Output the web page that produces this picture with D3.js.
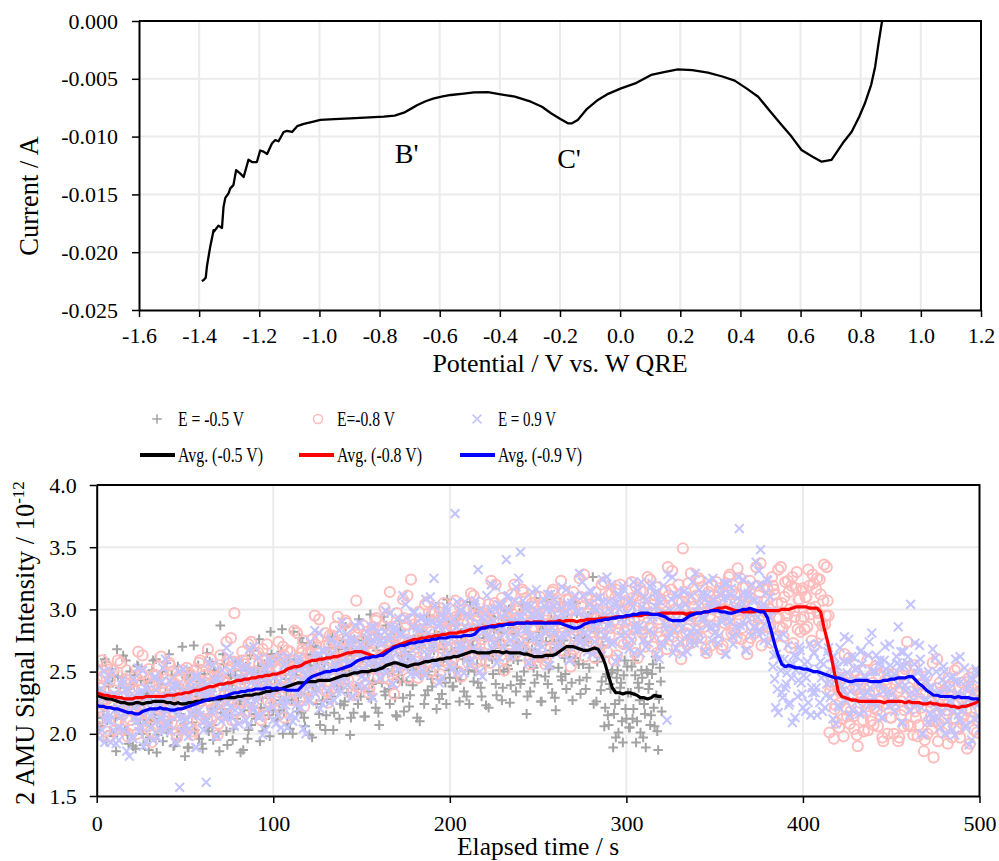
<!DOCTYPE html>
<html>
<head>
<meta charset="utf-8">
<script src="https://cdn.jsdelivr.net/npm/d3@7"></script>
<style>
  body { margin: 0; background: #fff; }
  svg text { font-family: "Liberation Serif", "Times New Roman", serif; fill: #000; }
</style>
</head>
<body>
<div id="chart"></div>
<script>
// ---------- top plot data (voltammogram) ----------
const potential = [-1.391,-1.385,-1.378,-1.374,-1.363,-1.352,-1.350,-1.336,-1.324,-1.319,-1.313,-1.302,-1.297,-1.286,-1.277,-1.263,-1.252,-1.236,-1.224,-1.208,-1.197,-1.186,-1.174,-1.158,-1.147,-1.136,-1.119,-1.108,-1.091,-1.074,-1.052,-1.02,-0.997,-0.95,-0.897,-0.85,-0.786,-0.75,-0.719,-0.695,-0.674,-0.645,-0.619,-0.59,-0.563,-0.52,-0.486,-0.44,-0.397,-0.35,-0.297,-0.26,-0.23,-0.2,-0.174,-0.16,-0.141,-0.11,-0.074,-0.04,0.003,0.05,0.103,0.15,0.192,0.24,0.292,0.34,0.381,0.42,0.459,0.50,0.537,0.57,0.603,0.64,0.67,0.703,0.74,0.77,0.795,0.814,0.835,0.848,0.86,0.871];
const current = [-0.0225,-0.0224,-0.0222,-0.0212,-0.0195,-0.0181,-0.0182,-0.0177,-0.0179,-0.0161,-0.0153,-0.0149,-0.0145,-0.0142,-0.0129,-0.0132,-0.0135,-0.0120,-0.0122,-0.0122,-0.0112,-0.0113,-0.0115,-0.0106,-0.0103,-0.0104,-0.0096,-0.0095,-0.0096,-0.0091,-0.0089,-0.0087,-0.00856,-0.00848,-0.00842,-0.00836,-0.00828,-0.00818,-0.00793,-0.00758,-0.00727,-0.00692,-0.00669,-0.00652,-0.0064,-0.00628,-0.00618,-0.00615,-0.00634,-0.00655,-0.00698,-0.00742,-0.00798,-0.00845,-0.00885,-0.00885,-0.00856,-0.0076,-0.00683,-0.0063,-0.00583,-0.0054,-0.00467,-0.0044,-0.00418,-0.00425,-0.00447,-0.0048,-0.00516,-0.00583,-0.00655,-0.00785,-0.009,-0.0100,-0.01116,-0.01174,-0.01217,-0.01202,-0.01058,-0.00958,-0.00828,-0.00712,-0.0055,-0.00395,-0.0018,0.0];
const potTicks = [-1.6,-1.4,-1.2,-1.0,-0.8,-0.6,-0.4,-0.2,0,0.2,0.4,0.6,0.8,1.0,1.2];
const curTicks = [0,-0.005,-0.010,-0.015,-0.020,-0.025];
const peakLabels = [{text: "B'", v: -0.71, i: -0.0123}, {text: "C'", v: -0.17, i: -0.0127}];

// ---------- bottom plot data (2 AMU signal) ----------
// samples on whole seconds
const grayPts = [2.13,2.34,2.06,2.55,2.21,2.58,2.11,2.38,2.02,2.46, 2.21,1.86,2.46,2.37,2.12,2.63,2.03,2.28,1.92,2.50,
  2.15,2.39,1.88,2.55,2.20,2.43,2.00,2.32,2.11,2.41, 1.97,2.31,2.59,2.12,1.85,2.45,2.20,2.50,2.06,2.33,
  2.01,2.64,2.11,2.27,1.91,2.41,2.54,2.16,2.02,2.36, 1.82,2.50,1.89,2.45,2.09,2.71,2.15,2.30,1.96,2.38,
  1.88,2.48,2.33,2.05,2.58,2.20,1.95,2.41,2.26,2.00, 2.87,2.20,2.56,2.15,1.91,2.39,2.47,1.95,2.33,2.12,
  2.58,2.26,2.51,1.87,2.43,2.29,2.03,2.63,2.22,2.49, 2.12,2.41,2.76,2.21,2.02,2.56,2.32,2.46,1.98,2.64,
  2.19,2.40,2.12,2.61,2.27,2.84,2.17,2.44,2.08,2.52, 2.35,2.00,2.60,2.51,2.26,2.77,2.17,2.42,2.06,2.64,
  2.31,2.55,1.97,2.71,2.36,2.59,2.16,2.48,2.27,2.57, 2.15,2.49,2.77,2.30,2.03,2.63,2.38,2.68,2.24,2.51,
  2.23,2.86,2.33,2.49,2.13,2.63,2.76,2.38,2.24,2.58, 2.49,2.75,2.14,2.70,2.34,2.96,2.40,2.55,2.21,2.63,
  2.07,2.77,2.62,2.34,2.87,2.49,2.24,2.70,2.55,2.29, 2.14,2.47,2.83,2.42,2.18,2.66,2.74,2.22,2.60,2.39,
  2.86,2.54,2.79,2.10,2.71,2.57,2.31,2.91,2.50,2.77, 2.38,2.67,3.02,2.47,2.28,2.82,2.58,2.72,2.24,2.90,
  2.45,2.66,2.38,2.87,2.53,2.95,2.43,2.70,2.34,2.78, 2.59,2.24,2.84,2.75,2.50,3.01,2.41,2.66,2.30,2.88,
  2.55,2.79,2.21,2.95,2.60,2.83,2.40,2.72,2.51,2.81, 2.37,2.71,2.99,2.52,2.25,2.85,2.60,2.90,2.46,2.73,
  2.40,3.03,2.50,2.66,2.30,2.80,2.93,2.55,2.41,2.75, 2.61,2.87,2.26,2.82,2.46,3.08,2.52,2.67,2.33,2.75,
  2.19,2.89,2.74,2.46,2.99,2.61,2.36,2.82,2.67,2.41, 3.06,2.61,2.97,2.56,2.32,2.80,2.88,2.36,2.74,2.53,
  2.97,3.26,2.90,2.26,2.82,2.68,2.42,2.62,2.21,2.48, 2.07,2.36,2.51,2.16,1.97,2.51,2.27,2.41,1.93,2.59,
  2.12,2.33,2.05,2.54,2.20,2.47,2.10,2.37,2.01,2.45, 2.24,1.89,2.49,2.40,2.15,2.56,2.06,2.31,1.87,2.53,
  2.18];
const redPts = [2.44,2.11,2.37,2.59,2.23,2.02,2.48,2.29,2.52,2.18, 2.35,2.10,2.59,2.18,2.30,2.03,2.41,2.51,2.22,2.11,
  2.37,2.27,2.47,2.00,2.43,2.16,2.63,2.20,2.32,2.06, 2.39,1.93,2.47,2.35,2.14,2.54,2.25,2.06,2.41,2.30,
  2.10,2.57,2.22,2.50,2.18,2.00,2.37,2.43,2.03,2.32, 2.18,2.53,2.29,2.48,1.99,2.42,2.31,2.11,2.57,2.26,
  2.50,2.19,2.41,2.68,2.26,2.11,2.53,2.34,2.45,2.08, 2.63,2.27,2.43,2.21,2.59,2.33,2.77,2.25,2.97,2.18,
  2.56,2.40,2.13,2.59,2.52,2.33,2.72,2.26,2.45,2.18, 2.64,2.37,2.56,2.11,2.68,2.41,2.59,2.26,2.50,2.34,
  2.59,2.26,2.52,2.74,2.38,2.17,2.63,2.44,2.67,2.33, 2.59,2.34,2.83,2.42,2.54,2.27,2.65,2.75,2.46,2.35,
  2.66,2.56,2.76,2.29,2.72,2.45,2.92,2.49,2.61,2.35, 2.71,2.25,2.79,2.67,2.46,2.86,2.57,2.38,2.73,2.62,
  2.44,2.91,2.56,2.84,2.52,2.34,2.71,3.07,2.37,2.66, 2.52,2.87,2.63,2.82,2.33,2.76,2.65,2.45,2.91,2.60,
  2.83,2.52,2.74,3.01,2.59,2.44,3.14,2.67,2.78,2.41, 2.97,2.61,2.77,2.55,2.93,2.67,3.11,2.59,3.24,2.52,
  2.88,2.72,2.45,2.91,2.84,2.65,3.04,2.58,2.77,2.50, 2.97,2.70,2.89,2.44,3.01,2.74,2.92,2.59,2.83,2.67,
  2.92,2.59,2.85,3.07,2.71,2.50,2.96,2.77,3.00,2.66, 2.89,2.64,3.13,2.72,2.84,2.57,2.95,3.05,2.76,2.65,
  2.94,2.84,3.04,2.57,3.00,2.73,3.20,2.77,2.89,2.63, 2.97,2.51,3.05,2.93,2.72,3.12,2.83,2.64,2.99,2.88,
  2.69,3.16,2.81,3.09,2.77,2.59,2.96,3.02,2.62,2.91, 2.75,3.10,2.86,3.05,2.56,2.99,2.88,2.68,3.14,2.83,
  3.05,2.74,2.96,3.23,2.81,2.66,3.08,2.89,3.00,2.63, 3.14,2.78,2.94,2.72,3.10,2.84,3.28,2.76,2.97,2.69,
  3.04,2.88,2.61,3.07,3.00,2.81,3.20,2.74,2.93,2.66, 3.12,2.85,3.04,2.59,3.16,2.89,3.07,2.74,2.98,2.82,
  3.07,2.74,3.00,3.22,2.86,2.65,3.11,2.92,3.15,2.81, 3.02,2.77,3.26,2.85,2.97,2.70,3.08,3.18,2.89,2.78,
  3.05,2.95,3.15,2.68,3.11,2.84,3.31,2.88,3.00,2.74, 3.06,2.60,3.49,3.02,2.81,3.21,2.92,2.73,3.08,2.97,
  2.78,3.25,2.90,3.18,2.86,2.68,3.05,3.11,2.71,3.00, 2.87,3.22,2.98,3.17,2.68,3.11,3.00,2.80,3.26,2.95,
  3.15,2.84,3.06,3.33,2.91,2.76,3.18,2.99,3.10,2.73, 3.23,2.87,3.03,2.81,3.19,2.93,3.37,2.85,3.06,2.78,
  3.16,3.00,2.73,3.19,3.12,2.93,3.32,2.86,3.05,2.78, 3.22,2.95,3.14,2.69,3.26,2.99,3.17,2.84,3.08,2.92,
  3.17,2.84,3.10,3.32,2.96,2.75,3.21,3.02,3.25,2.91, 3.12,2.87,3.36,2.95,3.07,2.01,2.39,2.49,2.20,2.09,
  2.35,2.25,2.45,1.98,2.41,2.14,2.61,2.18,2.30,2.04, 2.36,1.90,2.44,2.32,2.11,2.51,2.22,2.03,2.38,2.27,
  2.07,2.54,2.19,2.47,2.15,1.97,2.34,2.40,2.00,2.29, 2.13,2.48,2.24,2.43,1.94,2.37,2.26,2.06,2.52,2.74,
  2.37,2.06,2.28,2.55,2.13,1.98,2.40,2.21,2.32,1.95, 2.46,2.10,2.26,2.04,1.81,2.16,2.60,2.08,2.29,2.01,
  2.35,2.19,1.92,2.38,2.31,2.12,2.51,2.05,2.24,1.97, 2.41,2.14,2.33,1.88,2.45,2.18,2.36,2.03,2.27,2.11,
  2.34];
const bluePts = [1.99,2.34,2.23,2.03,2.50,2.15,2.43,2.11,1.93,2.30, 2.32,1.92,2.21,2.05,2.40,2.16,2.35,1.86,2.29,2.18,
  1.98,2.44,2.13,2.33,2.02,2.24,2.51,2.09,1.94,2.36, 2.21,2.32,1.95,2.46,2.10,2.26,2.04,2.42,2.16,2.60,
  2.09,2.30,2.02,2.36,2.20,1.93,2.39,1.57,2.13,2.52, 2.06,2.25,1.98,2.42,2.15,2.34,1.89,2.46,2.19,2.37,
  2.09,2.33,1.61,2.40,2.07,2.33,2.55,2.19,1.98,2.44, 2.28,2.51,2.17,2.38,2.13,2.62,2.21,2.33,2.06,2.44,
  2.58,2.29,2.18,2.44,2.34,2.54,2.07,2.50,2.23,2.70, 2.27,2.39,2.13,2.45,1.99,2.53,2.41,2.20,2.60,2.31,
  2.11,2.46,2.35,2.15,2.62,2.27,2.55,2.23,2.05,2.42, 2.50,2.10,2.39,2.23,2.58,2.34,2.53,2.04,2.47,2.36,
  2.28,2.74,2.43,2.63,2.32,2.54,2.81,2.39,2.24,2.66, 2.51,2.62,2.25,2.76,2.40,2.56,2.34,2.72,2.46,2.90,
  2.46,2.67,2.39,2.73,2.57,2.30,2.76,2.69,2.50,2.89, 2.46,2.65,2.38,2.82,2.55,2.74,2.29,2.86,2.59,2.77,
  2.51,2.75,2.59,2.82,2.49,2.75,2.97,2.61,2.40,2.86, 2.70,2.93,2.59,2.80,2.55,3.04,2.63,2.75,2.48,2.86,
  2.98,2.69,2.58,2.84,2.74,2.94,2.47,2.90,2.63,3.10, 2.69,3.25,2.55,2.87,2.41,2.95,2.83,2.62,3.02,2.73,
  2.55,2.90,2.79,3.77,3.06,2.71,2.99,2.67,2.49,2.86, 2.96,2.56,2.85,2.69,3.04,2.80,3.32,2.50,2.93,2.82,
  2.65,3.11,2.80,3.00,2.69,2.91,3.18,2.76,2.61,3.03, 2.86,2.97,3.40,3.11,2.75,2.91,2.69,3.07,2.81,3.25,
  3.46,2.94,2.66,3.00,2.84,2.57,3.03,2.96,2.77,3.16, 2.72,2.91,2.64,3.08,2.81,3.00,2.55,3.12,2.85,3.03,
  2.70,2.94,2.78,3.01,2.68,2.94,3.16,2.80,2.59,3.05, 2.88,3.11,2.77,2.98,2.73,3.22,2.81,2.93,2.66,3.04,
  3.14,2.85,2.74,3.00,2.90,3.10,2.63,3.06,2.79,3.26, 2.86,2.98,2.72,3.04,2.58,3.12,3.00,2.79,3.19,2.90,
  2.71,3.06,2.95,2.75,3.22,2.87,3.15,2.83,2.65,3.02, 3.10,2.70,2.99,2.83,3.18,2.94,3.13,2.64,3.07,2.96,
  2.73,3.19,2.88,2.11,2.77,2.99,3.26,2.84,2.69,3.11, 2.90,3.01,2.64,3.15,2.79,2.95,2.73,3.11,2.85,3.29,
  2.82,3.03,2.75,3.09,2.93,2.66,3.12,3.05,2.86,3.25, 2.81,3.00,2.73,3.17,2.90,3.09,2.64,3.21,2.94,3.12,
  2.78,3.02,2.86,3.09,3.65,3.02,3.24,2.88,2.67,3.13, 2.97,3.20,2.86,3.07,2.82,3.31,3.48,3.02,2.75,3.13,
  3.23,2.94,2.83,2.54,2.44,2.64,2.17,2.60,2.33,2.80, 2.37,2.49,2.23,2.55,2.09,2.63,2.51,2.30,2.70,2.41,
  2.21,2.56,2.45,2.25,2.72,2.37,2.65,2.33,2.15,2.52, 2.58,2.18,2.47,2.31,2.66,2.42,2.61,2.12,2.55,2.44,
  2.23,2.69,2.38,2.58,2.27,2.49,2.76,2.34,2.19,2.61, 2.42,2.53,2.16,2.67,2.31,2.47,2.25,2.63,2.37,2.81,
  2.29,2.50,2.22,2.56,2.40,2.13,2.59,2.52,2.33,2.72, 2.26,2.45,2.18,2.62,2.86,2.54,2.09,2.66,2.39,2.57,
  2.25,3.04,2.33,2.56,2.23,2.49,2.71,2.21,2.00,2.46, 2.27,2.50,2.16,2.37,2.12,2.61,2.20,2.32,2.05,2.43,
  2.50,2.21,2.10,2.36,2.26,2.46,1.99,2.42,2.15,2.62, 2.19,2.31,2.05,2.37,1.91,2.45,2.33,2.12,2.52,2.23,
  2.04];

// samples on half seconds
const grayPtsHalf = [2.55,2.06,2.34,2.13,2.60,1.94,2.42,2.28,2.52,1.98, 2.13,2.68,2.33,2.04,2.45,2.18,2.59,1.99,2.25,2.39,
  1.90,2.47,2.22,2.54,2.08,2.29,1.91,2.43,2.35,1.87, 2.10,2.51,2.15,2.60,1.99,2.25,2.40,1.94,2.19,2.57,
  2.04,2.32,2.47,1.90,2.37,1.95,2.29,2.14,2.70,2.08, 2.45,1.89,2.50,2.24,2.37,2.03,2.17,2.55,2.42,1.92,
  2.28,2.12,2.65,2.02,2.34,2.07,2.51,2.21,2.46,1.86, 2.17,2.64,2.36,2.02,2.45,2.15,2.36,2.04,2.47,2.24,
  2.59,1.85,2.43,2.19,2.54,1.96,2.32,2.07,2.67,2.16, 2.45,2.54,1.94,2.29,2.50,2.06,2.42,2.15,2.82,2.25,
  2.61,2.12,2.40,2.19,2.66,2.00,2.48,2.34,2.58,2.04, 2.27,2.82,2.47,2.18,2.59,2.32,2.73,2.13,2.39,2.53,
  1.99,2.63,2.38,2.70,2.24,2.45,2.07,2.59,2.51,2.03, 2.28,2.69,2.33,2.78,2.17,2.43,2.58,2.12,2.37,2.75,
  2.26,2.54,2.69,1.99,2.59,2.17,2.51,2.36,2.92,2.30, 2.70,2.14,2.75,2.49,2.62,2.28,2.42,2.80,2.67,2.17,
  2.57,2.41,2.94,2.31,2.63,2.36,2.80,2.50,2.75,2.15, 2.44,2.91,2.63,2.29,2.72,2.42,2.63,2.31,2.74,2.51,
  2.87,2.13,2.71,2.47,2.82,2.24,2.60,2.35,2.95,2.44, 2.71,2.80,2.20,2.55,2.76,2.32,2.68,2.41,3.08,2.51,
  2.87,2.38,2.66,2.45,2.92,2.26,2.74,2.60,2.84,2.30, 2.51,3.06,2.71,2.42,2.83,2.56,2.97,2.37,2.63,2.77,
  2.23,2.87,2.62,2.94,2.48,2.69,2.31,2.83,2.75,2.27, 2.50,2.91,2.55,3.00,2.39,2.65,2.80,2.34,2.59,2.97,
  2.43,2.71,2.86,2.16,2.76,2.34,2.68,2.53,3.09,2.47, 2.82,2.26,2.87,2.61,2.74,2.40,2.54,2.92,2.79,2.29,
  2.69,2.53,3.06,2.43,2.75,2.48,2.92,2.62,2.87,2.27, 2.58,3.05,2.77,2.43,2.86,2.56,2.77,2.45,2.88,2.65,
  2.98,2.24,2.82,2.58,2.93,2.35,2.71,2.06,2.46,2.15, 2.40,2.49,1.89,2.24,2.45,2.01,2.37,2.10,2.47,2.20,
  2.54,2.05,2.33,2.12,2.59,1.93,2.41,2.27,2.51,1.97, 2.16,2.51,2.36,2.07,2.48,2.21,2.62,2.02,2.28,2.42];
const redPtsHalf = [2.21,2.37,2.13,2.46,2.28,2.55,1.98,2.43,2.24,2.51, 2.03,2.30,2.11,2.57,2.18,2.37,2.44,1.98,2.25,2.41,
  2.07,2.35,2.14,2.66,2.22,2.48,2.10,2.32,2.16,2.52, 2.02,2.39,2.28,2.47,2.05,2.20,2.62,2.35,2.13,2.44,
  2.24,2.55,2.09,2.29,2.40,1.97,2.46,2.27,2.51,2.16, 2.34,2.05,2.45,2.39,2.02,2.20,2.52,2.24,2.59,2.12,
  2.36,2.47,2.12,2.31,2.60,2.20,2.41,2.53,1.99,2.45, 2.17,2.43,2.31,2.74,2.27,2.54,2.11,2.58,2.38,2.48,
  2.26,2.37,2.66,2.56,2.18,2.45,2.33,2.74,2.25,2.50, 2.31,2.65,2.42,2.61,2.15,2.36,2.72,2.50,2.24,2.57,
  2.36,2.52,2.28,2.61,2.43,2.70,2.13,2.58,2.39,2.66, 2.27,2.54,2.35,2.81,2.42,2.61,2.68,2.22,2.49,2.65,
  2.36,2.64,2.43,2.95,2.51,2.77,2.39,2.61,2.45,2.81, 2.34,2.71,2.60,2.79,2.37,2.52,2.94,2.67,2.45,2.76,
  2.58,2.89,2.43,2.63,2.74,2.31,2.80,2.61,2.85,2.50, 2.68,2.39,2.79,2.73,2.36,2.54,2.86,2.58,2.93,2.46,
  2.69,2.80,2.45,2.64,2.93,2.53,2.74,2.86,2.32,2.78, 2.51,2.77,2.65,3.08,2.61,2.88,2.45,2.92,2.72,2.82,
  2.58,2.69,2.98,2.88,2.50,2.77,2.65,3.06,2.57,2.82, 2.64,2.98,2.75,2.94,2.48,2.69,3.05,2.83,2.57,2.90,
  2.69,2.85,2.61,2.94,2.76,3.03,2.46,2.91,2.72,2.99, 2.57,2.84,2.65,3.11,2.72,2.91,2.98,2.52,2.79,2.95,
  2.64,2.92,2.71,3.23,2.79,3.05,2.67,2.89,2.73,3.09, 2.60,2.97,2.86,3.05,2.63,2.78,3.20,2.93,2.71,3.02,
  2.83,3.14,2.68,2.88,2.99,2.56,3.05,2.86,3.10,2.75, 2.91,2.62,3.02,2.96,2.59,2.77,3.09,2.81,3.16,2.69,
  2.91,3.02,2.67,2.86,3.15,2.75,2.96,3.08,2.54,3.00, 2.68,2.94,2.82,3.25,2.78,3.05,2.62,3.09,2.89,2.99,
  2.74,2.85,3.14,3.04,2.66,2.93,2.81,3.22,2.73,2.98, 2.79,3.13,2.90,3.09,2.63,2.84,3.20,2.98,2.72,3.05,
  2.84,3.00,2.76,3.09,2.91,3.18,2.61,3.06,2.87,3.14, 2.70,2.97,2.78,3.24,2.85,3.04,3.11,2.65,2.92,3.08,
  2.75,3.03,2.82,3.34,2.90,3.16,2.78,3.00,2.84,3.20, 2.69,3.06,2.95,3.14,2.72,2.87,3.29,3.02,2.80,3.11,
  2.92,3.23,2.77,2.97,3.08,2.65,3.14,2.95,3.19,2.84, 3.03,2.74,3.14,3.08,2.71,2.89,3.21,2.93,3.28,2.81,
  3.01,3.12,2.77,2.96,3.25,2.85,3.06,3.18,2.64,3.10, 2.77,3.03,2.91,3.34,2.87,3.14,2.71,3.18,2.98,3.08,
  2.86,2.97,3.26,3.16,2.78,3.05,2.93,3.34,2.85,3.10, 2.89,3.23,3.00,3.19,2.73,2.94,3.30,3.08,2.82,3.15,
  2.94,3.10,2.86,3.19,3.01,3.28,2.71,3.16,2.97,3.24, 2.80,3.07,2.88,3.34,2.95,2.35,2.42,1.96,2.23,2.39,
  2.05,2.33,2.12,2.64,2.20,2.46,2.08,2.30,2.14,2.50, 1.99,2.36,2.25,2.44,2.02,2.17,2.59,2.32,2.10,2.41,
  2.21,2.52,2.06,2.26,2.37,1.94,2.43,2.24,2.48,2.13, 2.29,2.00,2.40,2.34,1.97,2.15,2.47,2.19,2.54,2.07,
  2.23,2.34,1.99,2.18,2.47,2.07,2.28,2.40,1.86,2.32, 2.00,2.26,2.14,2.57,2.10,2.37,1.94,2.41,2.21,2.31,
  2.05,2.16,2.45,2.35,1.97,2.24,2.12,2.53,2.04,2.29, 2.08,2.42,2.19,2.38,1.92,2.13,2.49,2.27,2.01,2.34];
const bluePtsHalf = [2.25,1.96,2.36,2.30,1.93,2.11,2.43,2.15,2.50,2.03, 2.19,2.30,1.95,2.14,2.43,2.03,2.24,2.36,1.82,2.28,
  1.96,2.22,2.10,2.53,2.06,2.33,1.90,2.37,2.17,2.27, 2.05,2.16,2.45,2.35,1.97,2.24,2.12,2.53,2.04,2.29,
  2.09,2.43,2.20,2.39,1.93,2.14,2.50,2.28,2.02,2.35, 2.12,2.28,2.04,2.37,2.19,2.46,1.89,2.34,2.15,2.42,
  2.03,2.30,2.11,2.57,2.18,2.37,2.44,1.98,2.25,2.41, 2.10,2.38,2.17,2.69,2.25,2.51,2.13,2.35,2.19,2.55,
  2.08,2.45,2.34,2.53,2.11,2.26,2.68,2.41,2.19,2.50, 2.30,2.61,2.15,2.35,2.46,2.03,2.52,2.33,2.57,2.22,
  2.37,2.08,2.48,2.42,2.05,2.23,2.55,2.27,2.62,2.15, 2.37,2.48,2.13,2.32,2.61,2.21,2.42,2.54,2.00,2.46,
  2.26,2.52,2.40,2.83,2.36,2.63,2.20,2.67,2.47,2.57, 2.35,2.46,2.75,2.65,2.27,2.54,2.42,2.83,2.34,2.59,
  2.46,2.80,2.57,2.76,2.30,2.51,2.87,2.65,2.39,2.72, 2.52,2.68,2.44,2.77,2.59,2.86,2.29,2.74,2.55,2.82,
  2.45,2.72,2.53,2.99,2.60,2.79,2.86,2.40,2.67,2.83, 2.52,2.80,2.59,3.11,2.67,2.93,2.55,2.77,2.61,2.97,
  2.48,2.85,2.74,2.93,2.51,2.66,3.08,2.81,2.59,2.90, 2.72,3.03,2.57,2.77,2.88,2.45,2.94,2.75,2.99,2.64,
  2.81,2.52,2.92,2.86,2.49,2.67,2.99,2.71,3.06,2.59, 2.83,2.94,2.59,2.78,3.07,2.67,2.88,3.00,2.46,2.92,
  2.63,2.89,2.77,3.20,2.73,3.00,2.57,3.04,2.84,2.94, 2.70,2.81,3.10,3.00,2.62,2.89,2.77,3.18,2.69,2.94,
  2.73,3.07,2.84,3.03,2.57,2.78,3.14,2.92,2.66,2.99, 2.78,2.94,2.70,3.03,2.85,3.12,2.55,3.00,2.81,3.08,
  2.64,2.91,2.72,3.18,2.79,2.98,3.05,2.59,2.86,3.02, 2.70,2.98,2.77,3.29,2.85,3.11,2.73,2.95,2.79,3.15,
  2.64,3.01,2.90,3.09,2.67,2.82,3.24,2.97,2.75,3.06, 2.89,3.20,2.74,2.94,3.05,2.62,3.11,2.92,3.16,2.81,
  2.97,2.68,3.08,3.02,2.65,2.83,3.15,2.87,3.22,2.75, 2.97,3.08,2.73,2.92,3.21,2.81,3.02,3.14,2.60,3.06,
  2.71,2.97,2.85,3.28,2.81,3.08,2.65,3.12,2.92,3.02, 2.74,2.85,3.14,3.04,2.66,2.93,2.81,3.22,2.73,2.98,
  2.82,3.16,2.93,3.12,2.66,2.87,3.23,3.01,2.75,3.08, 2.87,3.03,2.79,3.12,2.94,3.21,2.64,3.09,2.90,3.17,
  2.72,2.99,2.80,3.26,2.87,3.06,3.13,2.67,2.94,3.10, 2.79,3.07,2.86,3.38,2.94,3.20,2.82,3.04,2.88,3.24,
  2.73,3.10,2.99,2.63,2.21,2.36,2.78,2.51,2.29,2.60, 2.40,2.71,2.25,2.45,2.56,2.13,2.62,2.43,2.67,2.32,
  2.47,2.18,2.58,2.52,2.15,2.33,2.65,2.37,2.72,2.25, 2.45,2.56,2.21,2.40,2.69,2.29,2.50,2.62,2.08,2.54,
  2.21,2.47,2.35,2.78,2.31,2.58,2.15,2.62,2.42,2.52, 2.26,2.37,2.66,2.56,2.18,2.45,2.33,2.74,2.25,2.50,
  2.29,2.63,2.40,2.59,2.13,2.34,2.70,2.48,2.22,2.55, 2.32,2.48,2.24,2.57,2.39,2.66,2.09,2.54,2.35,2.62,
  2.19,2.46,2.27,2.73,2.34,2.53,2.60,2.00,2.27,2.43, 2.09,2.37,2.16,2.68,2.24,2.50,2.12,2.34,2.18,2.54,
  2.00,2.37,2.26,2.45,2.03,2.18,2.60,2.33,2.11,2.42, 2.22,2.53,2.07,2.27,2.38,1.95,2.44,2.25,2.49,2.14];

// moving averages, one value every 2 s
const blackAvg = [2.31,2.30,2.29,2.28,2.28,2.27,2.26,2.25,2.25,2.24, 2.24,2.25,2.25,2.24,2.25,2.25,2.26,2.26,2.26,2.26,
  2.25,2.25,2.24,2.25,2.24,2.24,2.25,2.25,2.26,2.26, 2.27,2.27,2.27,2.28,2.28,2.28,2.29,2.29,2.29,2.29,
  2.30,2.30,2.31,2.31,2.31,2.32,2.32,2.33,2.34,2.34, 2.35,2.35,2.36,2.37,2.38,2.39,2.40,2.41,2.41,2.41,
  2.42,2.42,2.42,2.43,2.43,2.43,2.43,2.44,2.45,2.46, 2.47,2.47,2.48,2.49,2.49,2.50,2.50,2.50,2.51,2.51,
  2.52,2.53,2.55,2.56,2.57,2.57,2.56,2.55,2.54,2.55, 2.56,2.56,2.57,2.58,2.58,2.59,2.59,2.60,2.60,2.61,
  2.61,2.62,2.62,2.63,2.64,2.65,2.66,2.66,2.65,2.65, 2.65,2.65,2.66,2.66,2.66,2.65,2.66,2.65,2.65,2.65,
  2.65,2.64,2.64,2.63,2.62,2.62,2.62,2.63,2.63,2.63, 2.64,2.66,2.68,2.70,2.70,2.70,2.69,2.68,2.67,2.67,
  2.68,2.69,2.68,2.63,2.56,2.46,2.37,2.33,2.33,2.32, 2.33,2.33,2.32,2.31,2.29,2.29,2.28,2.29,2.31,2.30,
  2.30];
const redAvg = [2.33,2.32,2.31,2.31,2.30,2.30,2.29,2.29,2.28,2.28, 2.28,2.29,2.29,2.29,2.30,2.30,2.30,2.30,2.30,2.30,
  2.31,2.31,2.31,2.32,2.32,2.33,2.33,2.34,2.35,2.35, 2.36,2.37,2.38,2.38,2.39,2.40,2.40,2.41,2.41,2.42,
  2.43,2.43,2.44,2.44,2.45,2.45,2.46,2.46,2.47,2.47, 2.48,2.48,2.49,2.50,2.52,2.53,2.54,2.54,2.55,2.57,
  2.58,2.59,2.59,2.60,2.60,2.61,2.61,2.62,2.62,2.63, 2.64,2.65,2.65,2.66,2.66,2.66,2.65,2.64,2.63,2.62,
  2.63,2.65,2.67,2.68,2.70,2.71,2.72,2.73,2.74,2.75, 2.76,2.76,2.77,2.77,2.78,2.78,2.79,2.79,2.80,2.80,
  2.81,2.81,2.81,2.82,2.82,2.83,2.84,2.84,2.85,2.85, 2.86,2.86,2.87,2.87,2.88,2.88,2.88,2.89,2.89,2.89,
  2.89,2.89,2.90,2.89,2.90,2.90,2.90,2.89,2.90,2.90, 2.90,2.91,2.90,2.91,2.91,2.91,2.90,2.91,2.91,2.92,
  2.92,2.92,2.92,2.93,2.93,2.93,2.93,2.94,2.94,2.94, 2.94,2.95,2.95,2.95,2.95,2.96,2.96,2.96,2.96,2.96,
  2.97,2.97,2.97,2.97,2.97,2.97,2.97,2.96,2.97,2.97, 2.97,2.97,2.98,2.98,2.99,3.00,3.01,3.01,3.02,3.01,
  3.00,2.99,2.99,2.98,2.98,2.98,2.98,2.99,2.99,2.99, 2.99,2.99,2.99,2.99,3.00,3.00,3.00,3.01,3.02,3.02,
  3.02,3.02,3.01,3.01,3.01,2.98,2.85,2.74,2.62,2.48, 2.34,2.30,2.29,2.28,2.27,2.27,2.26,2.26,2.26,2.26,
  2.26,2.26,2.26,2.25,2.26,2.26,2.26,2.26,2.26,2.25, 2.26,2.25,2.25,2.25,2.24,2.24,2.25,2.24,2.24,2.23,
  2.23,2.23,2.22,2.22,2.21,2.22,2.22,2.23,2.24,2.25, 2.27];
const blueAvg = [2.23,2.22,2.22,2.21,2.21,2.20,2.20,2.19,2.18,2.17, 2.17,2.16,2.16,2.18,2.19,2.20,2.20,2.20,2.21,2.20,
  2.20,2.19,2.19,2.20,2.20,2.21,2.22,2.23,2.24,2.25, 2.26,2.27,2.28,2.28,2.29,2.30,2.30,2.31,2.32,2.33,
  2.33,2.34,2.34,2.35,2.35,2.36,2.36,2.36,2.37,2.37, 2.36,2.37,2.36,2.36,2.35,2.35,2.35,2.35,2.38,2.41,
  2.44,2.46,2.47,2.48,2.49,2.50,2.50,2.51,2.51,2.52, 2.53,2.54,2.55,2.57,2.59,2.60,2.61,2.61,2.62,2.62,
  2.63,2.63,2.65,2.67,2.69,2.70,2.71,2.71,2.72,2.73, 2.73,2.74,2.74,2.75,2.75,2.76,2.76,2.77,2.77,2.77,
  2.78,2.78,2.78,2.78,2.79,2.79,2.79,2.80,2.83,2.85, 2.85,2.86,2.86,2.86,2.87,2.87,2.88,2.88,2.88,2.89,
  2.89,2.89,2.89,2.89,2.89,2.89,2.89,2.89,2.89,2.89, 2.89,2.89,2.88,2.87,2.86,2.85,2.85,2.86,2.88,2.89,
  2.90,2.90,2.91,2.91,2.92,2.92,2.93,2.93,2.94,2.94, 2.95,2.95,2.96,2.96,2.97,2.97,2.97,2.96,2.96,2.96,
  2.95,2.94,2.92,2.91,2.91,2.91,2.91,2.93,2.95,2.96, 2.97,2.97,2.98,2.98,2.99,2.99,2.99,2.98,2.98,2.97,
  2.97,2.98,2.99,3.00,3.00,3.01,3.00,2.99,2.98,2.98, 2.93,2.83,2.72,2.63,2.56,2.54,2.55,2.54,2.53,2.53,
  2.52,2.52,2.51,2.50,2.50,2.49,2.48,2.47,2.46,2.45, 2.45,2.44,2.43,2.42,2.42,2.43,2.43,2.43,2.43,2.42,
  2.42,2.42,2.42,2.43,2.43,2.44,2.44,2.45,2.45,2.45, 2.46,2.46,2.43,2.40,2.38,2.35,2.33,2.31,2.31,2.30,
  2.30,2.30,2.30,2.29,2.30,2.29,2.29,2.29,2.28,2.28, 2.28];

const timeTicks = [0,100,200,300,400,500];
const signalTicks = [1.5,2.0,2.5,3.0,3.5,4.0];
const pointStep = 1;   // s between raw samples
const avgStep = 2;     // s between averaged samples

const legendMarkers = ["E = -0.5 V", "E=-0.8 V", "E = 0.9 V"];
const legendLines = ["Avg. (-0.5 V)", "Avg. (-0.8 V)", "Avg. (-0.9 V)"];

// ---------- layout ----------
const width = 999, height = 861;
const cvBox = {left: 139, right: 981, top: 21, bottom: 310};
const msBox = {left: 96.7, right: 979.5, top: 485, bottom: 796};
const gridColor = "#ebebeb";
const serif = '"Liberation Serif", "Times New Roman", serif';
const grayColor = "#a3a3a3", pinkColor = "#ffbcbc", lilacColor = "#c4c4ff";

const svg = d3.select("#chart")
  .append("svg")
  .attr("width", width)
  .attr("height", height);

// clip paths for both plot areas
const defs = svg.append("defs");
defs.append("clipPath").attr("id", "clipCv").append("rect")
  .attr("x", cvBox.left).attr("y", cvBox.top)
  .attr("width", cvBox.right - cvBox.left).attr("height", cvBox.bottom - cvBox.top);
defs.append("clipPath").attr("id", "clipMs").append("rect")
  .attr("x", msBox.left).attr("y", msBox.top)
  .attr("width", msBox.right - msBox.left).attr("height", msBox.bottom - msBox.top);

// styles the d3 axis groups like the Excel original
function styleAxis(g) {
  g.attr("font-family", serif).attr("font-size", 22);
  g.select(".domain").attr("stroke", "#000").attr("stroke-width", 2);
  g.selectAll(".tick line").attr("stroke", "#000").attr("stroke-width", 1.5);
  g.selectAll(".tick text").attr("fill", "#000").style("font-family", serif);
}

/*
  Top plot: current vs potential
*/
const xCv = d3.scaleLinear().domain([-1.6, 1.2]).range([cvBox.left, cvBox.right]);
const yCv = d3.scaleLinear().domain([-0.025, 0]).range([cvBox.bottom, cvBox.top]);

svg.append("g").selectAll("line")
  .data(potTicks.slice(1, -1))
  .join("line")
  .attr("x1", d => xCv(d)).attr("x2", d => xCv(d))
  .attr("y1", cvBox.top).attr("y2", cvBox.bottom)
  .attr("stroke", gridColor).attr("stroke-width", 2);
svg.append("g").selectAll("line")
  .data(curTicks.slice(1, -1))
  .join("line")
  .attr("x1", cvBox.left).attr("x2", cvBox.right)
  .attr("y1", d => yCv(d)).attr("y2", d => yCv(d))
  .attr("stroke", gridColor).attr("stroke-width", 2);

// border on top and right
svg.append("path")
  .attr("d", `M${cvBox.left},${cvBox.top}H${cvBox.right}V${cvBox.bottom}`)
  .attr("fill", "none").attr("stroke", "#000").attr("stroke-width", 2);

svg.append("g")
  .attr("transform", `translate(0,${cvBox.bottom})`)
  .call(d3.axisBottom(xCv).tickValues(potTicks).tickFormat(d => d.toFixed(1))
    .tickSize(7).tickSizeOuter(0).tickPadding(10))
  .call(styleAxis);

svg.append("g")
  .attr("transform", `translate(${cvBox.left},0)`)
  .call(d3.axisLeft(yCv).tickValues(curTicks).tickFormat(d => d.toFixed(3))
    .tickSize(7).tickSizeOuter(0).tickPadding(14))
  .call(styleAxis);

const cvData = potential.map((v, i) => ({v: v, i: current[i]}));
svg.append("path")
  .datum(cvData)
  .attr("clip-path", "url(#clipCv)")
  .attr("fill", "none")
  .attr("stroke", "#000")
  .attr("stroke-width", 2.3)
  .attr("stroke-linejoin", "round")
  .attr("d", d3.line().x(d => xCv(d.v)).y(d => yCv(d.i)));

svg.append("g").selectAll("text")
  .data(peakLabels)
  .join("text")
  .attr("x", d => xCv(d.v))
  .attr("y", d => yCv(d.i))
  .attr("text-anchor", "middle")
  .attr("font-size", 28)
  .text(d => d.text);

svg.append("text")
  .attr("x", (cvBox.left + cvBox.right) / 2)
  .attr("y", 372)
  .attr("text-anchor", "middle")
  .attr("font-size", 26)
  .text("Potential / V vs. W QRE");

svg.append("text")
  .attr("transform", "translate(38,196) rotate(-90)")
  .attr("text-anchor", "middle")
  .attr("font-size", 26.5)
  .text("Current / A");

/*
  Bottom plot: 2 AMU signal vs time
*/
const xMs = d3.scaleLinear().domain([0, 500]).range([msBox.left, msBox.right]);
const yMs = d3.scaleLinear().domain([1.5, 4.0]).range([msBox.bottom, msBox.top]);

svg.append("g").selectAll("line")
  .data(timeTicks.slice(1, -1))
  .join("line")
  .attr("x1", d => xMs(d)).attr("x2", d => xMs(d))
  .attr("y1", msBox.top).attr("y2", msBox.bottom)
  .attr("stroke", gridColor).attr("stroke-width", 2);
svg.append("g").selectAll("line")
  .data(signalTicks.slice(1, -1))
  .join("line")
  .attr("x1", msBox.left).attr("x2", msBox.right)
  .attr("y1", d => yMs(d)).attr("y2", d => yMs(d))
  .attr("stroke", gridColor).attr("stroke-width", 2);

const plusPath = "M-4.8,0H4.8M0,-4.8V4.8";
const crossPath = "M-4.4,-4.4L4.4,4.4M-4.4,4.4L4.4,-4.4";

const toPoints = (arr, step, offset) => arr.map((v, i) => ({t: i * step + offset, v: v}));
const allPoints = (whole, half) => toPoints(whole, pointStep, 0).concat(toPoints(half, pointStep, pointStep / 2));

const plot = svg.append("g").attr("clip-path", "url(#clipMs)");

plot.append("g").selectAll("path")
  .data(allPoints(grayPts, grayPtsHalf))
  .join("path")
  .attr("d", plusPath)
  .attr("transform", d => `translate(${xMs(d.t)},${yMs(d.v)})`)
  .attr("stroke", grayColor).attr("stroke-width", 2).attr("fill", "none");

plot.append("g").selectAll("circle")
  .data(allPoints(redPts, redPtsHalf))
  .join("circle")
  .attr("cx", d => xMs(d.t))
  .attr("cy", d => yMs(d.v))
  .attr("r", 5.1)
  .attr("stroke", pinkColor).attr("stroke-width", 2).attr("fill", "none");

plot.append("g").selectAll("path")
  .data(allPoints(bluePts, bluePtsHalf))
  .join("path")
  .attr("d", crossPath)
  .attr("transform", d => `translate(${xMs(d.t)},${yMs(d.v)})`)
  .attr("stroke", lilacColor).attr("stroke-width", 2).attr("fill", "none");

const avgLine = d3.line().x(d => xMs(d.t)).y(d => yMs(d.v));
const avgSeries = [
  {data: blackAvg, color: "#000000"},
  {data: redAvg, color: "#ff0000"},
  {data: blueAvg, color: "#0000ff"}
];
plot.append("g").selectAll("path")
  .data(avgSeries)
  .join("path")
  .attr("fill", "none")
  .attr("stroke", d => d.color)
  .attr("stroke-width", 3.2)
  .attr("stroke-linejoin", "round")
  .attr("d", d => avgLine(toPoints(d.data, avgStep, 0)));

svg.append("path")
  .attr("d", `M${msBox.left},${msBox.top}H${msBox.right}V${msBox.bottom}`)
  .attr("fill", "none").attr("stroke", "#000").attr("stroke-width", 2);

svg.append("g")
  .attr("transform", `translate(0,${msBox.bottom})`)
  .call(d3.axisBottom(xMs).tickValues(timeTicks).tickFormat(d3.format("d"))
    .tickSize(7).tickSizeOuter(0).tickPadding(12))
  .call(styleAxis);

svg.append("g")
  .attr("transform", `translate(${msBox.left},0)`)
  .call(d3.axisLeft(yMs).tickValues(signalTicks).tickFormat(d => d.toFixed(1))
    .tickSize(7).tickSizeOuter(0).tickPadding(13))
  .call(styleAxis);

svg.append("text")
  .attr("x", (msBox.left + msBox.right) / 2)
  .attr("y", 855)
  .attr("text-anchor", "middle")
  .attr("font-size", 25.5)
  .text("Elapsed time / s");

const yTitle = svg.append("text")
  .attr("transform", "translate(34,643) rotate(-90)")
  .attr("text-anchor", "middle")
  .attr("font-size", 26.5);
yTitle.append("tspan").text("2 AMU Signal Intensity / 10");
yTitle.append("tspan").attr("font-size", 17).attr("dy", -10).text("-12");

/*
  Legend
*/
const legendX = [157, 318, 477];
const legendTextX = [178, 337, 498];
const markerW = [66, 58, 58];
const lineW = [85, 85, 84];
const legendColors = ["#000000", "#ff0000", "#0000ff"];
const legend = svg.append("g");

legend.append("path").attr("d", plusPath)
  .attr("transform", `translate(${legendX[0]},419)`)
  .attr("stroke", grayColor).attr("stroke-width", 1.5);
legend.append("circle").attr("cx", legendX[1]).attr("cy", 419).attr("r", 4.5)
  .attr("stroke", pinkColor).attr("stroke-width", 1.5).attr("fill", "none");
legend.append("path").attr("d", crossPath)
  .attr("transform", `translate(${legendX[2]},419)`)
  .attr("stroke", lilacColor).attr("stroke-width", 1.5);

legend.selectAll("text.mk")
  .data(legendMarkers)
  .join("text")
  .attr("class", "mk")
  .attr("x", (d, i) => legendTextX[i])
  .attr("y", 426)
  .attr("font-size", 22)
  .attr("textLength", (d, i) => markerW[i])
  .attr("lengthAdjust", "spacingAndGlyphs")
  .text(d => d);

legend.selectAll("line")
  .data(legendColors)
  .join("line")
  .attr("x1", (d, i) => legendTextX[i] - 38)
  .attr("x2", (d, i) => legendTextX[i] - 3)
  .attr("y1", 455).attr("y2", 455)
  .attr("stroke", d => d)
  .attr("stroke-width", 4);

legend.selectAll("text.ln")
  .data(legendLines)
  .join("text")
  .attr("class", "ln")
  .attr("x", (d, i) => legendTextX[i])
  .attr("y", 462)
  .attr("font-size", 22)
  .attr("textLength", (d, i) => lineW[i])
  .attr("lengthAdjust", "spacingAndGlyphs")
  .text(d => d);
</script>
</body>
</html>
